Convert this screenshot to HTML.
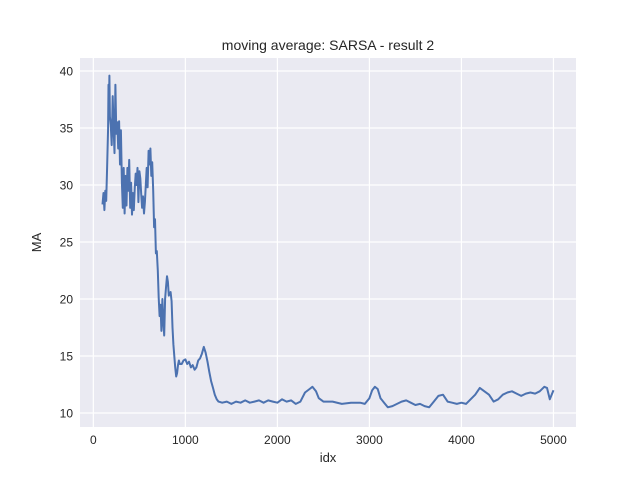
<!DOCTYPE html>
<html><head><meta charset="utf-8"><style>
body{margin:0;background:#fff;}
svg text{font-family:"Liberation Sans",sans-serif;fill:#262626;}
</style></head><body>
<svg id="chart" width="640" height="480" xmlns="http://www.w3.org/2000/svg"></svg>
<script>
const xTicks=[0,1000,2000,3000,4000,5000];
const yTicks=[10,15,20,25,30,35,40];
const idxVals=[100,110,120,130,140,150,160,165,170,175,180,
190,200,210,220,230,240,250,260,270,280,
290,300,310,320,330,340,350,360,370,380,
390,400,410,420,430,440,450,460,470,480,
490,500,510,520,530,540,550,560,570,580,
590,600,610,620,630,640,650,660,670,680,
690,700,710,720,730,740,750,760,770,780,
790,800,810,820,830,840,850,860,870,880,
890,900,910,920,930,940,
960,980,1000,1020,1040,1060,1080,1100,1120,1140,1160,1180,1200,1220,1240,1260,1280,
1300,1320,1340,1360,
1400,1450,1500,1550,1600,1650,1700,1750,1800,1850,1900,1950,2000,2050,2100,2150,2200,2250,2300,2350,
2380,2420,2450,2500,
2600,2700,2800,2900,
2950,3000,3030,3060,3090,3120,3160,3200,
3250,3300,3350,3400,3450,3500,3550,3600,3650,3700,3750,3800,3850,3900,3950,4000,4050,4100,4150,4200,4250,4300,4350,4400,4450,4500,4550,4600,4650,4700,4750,4800,4850,4900,4930,4960,5000];
const maVals=[28.3,29.3,27.8,29.5,28.6,31.5,35,38.8,37,39.6,36,
35.2,33.5,37.8,35,32.8,38.8,34.5,35.5,33.2,35.6,
31.8,34.8,30.2,28,31.5,27.5,30.8,28.2,31.5,29.5,
32.2,28,30.2,27.4,29.3,27.8,29.8,31,30,31.5,
28.5,31.2,30.6,29.2,28,29,27.5,28.5,30,31.5,
29.8,33,31.8,33.2,30.8,32,29.5,26.3,27,24,
24.2,22.5,20.1,18.5,19.5,17.2,20,18,16.8,20,
21,22,21.5,20.3,20.5,20.6,19.8,17.5,16,15,
14,13.2,13.5,14.2,14.6,14.3,
14.3,14.6,14.7,14.3,14.5,14.0,14.2,13.8,14.0,14.6,14.8,15.2,15.8,15.3,14.5,13.6,12.8,
12.2,11.6,11.2,11.0,
10.9,11.0,10.8,11.0,10.9,11.1,10.9,11.0,11.1,10.9,11.1,11.0,10.9,11.2,11.0,11.1,10.8,11.0,11.8,12.1,
12.3,11.9,11.3,11.0,
11.0,10.8,10.9,10.9,
10.8,11.3,12.0,12.3,12.1,11.3,10.9,10.5,
10.6,10.8,11.0,11.1,10.9,10.7,10.8,10.6,10.5,11.0,11.5,11.6,11.0,10.9,10.8,10.9,10.8,11.2,11.6,12.2,11.9,11.6,11.0,11.2,11.6,11.8,11.9,11.7,11.5,11.7,11.8,11.7,11.9,12.3,12.2,11.2,12.0];
const svg=document.getElementById('chart');const NS='http://www.w3.org/2000/svg';
const L=80,R=576,T=58,B=427,xmin=-145,xmax=5245,ymin=8.77,ymax=41.14;
const xs=v=>L+(v-xmin)/(xmax-xmin)*(R-L);
const ys=v=>B-(v-ymin)/(ymax-ymin)*(B-T);
function mk(t,a){const e=document.createElementNS(NS,t);for(const k in a)e.setAttribute(k,a[k]);svg.appendChild(e);return e;}
let bg=mk('rect',{x:L,y:T,width:R-L,height:B-T,fill:'#eaeaf2'});


xTicks.forEach(t=>{const g=mk('line',{x1:xs(t),x2:xs(t),y1:T,y2:B,stroke:'#fff','stroke-width':1.2});


const tx=mk('text',{x:xs(t),y:B+17,'text-anchor':'middle','font-size':12});tx.textContent=t;

});
yTicks.forEach(t=>{const g=mk('line',{x1:L,x2:R,y1:ys(t),y2:ys(t),stroke:'#fff','stroke-width':1.2});


const tx=mk('text',{x:L-7,y:ys(t)+4.5,'text-anchor':'end','font-size':12});tx.textContent=t;

});
const n=Math.min(idxVals.length,maVals.length);
let d='';for(let i=0;i<n;i++)d+=(i?'L':'M')+xs(idxVals[i]).toFixed(1)+','+ys(maVals[i]).toFixed(1);
let p=mk('path',{d:d,fill:'none',stroke:'#4c72b0','stroke-width':2,'stroke-linejoin':'round'});


let ti=mk('text',{x:(L+R)/2,y:T-8,'text-anchor':'middle','font-size':14});ti.textContent='moving average: SARSA - result 2';


let xl=mk('text',{x:(L+R)/2,y:B+35,'text-anchor':'middle','font-size':13});xl.textContent='idx';


let yl=mk('text',{x:0,y:0,'text-anchor':'middle','font-size':13,transform:'translate(41,'+((T+B)/2)+') rotate(-90)'});yl.textContent='MA';


</script>
</body></html>
